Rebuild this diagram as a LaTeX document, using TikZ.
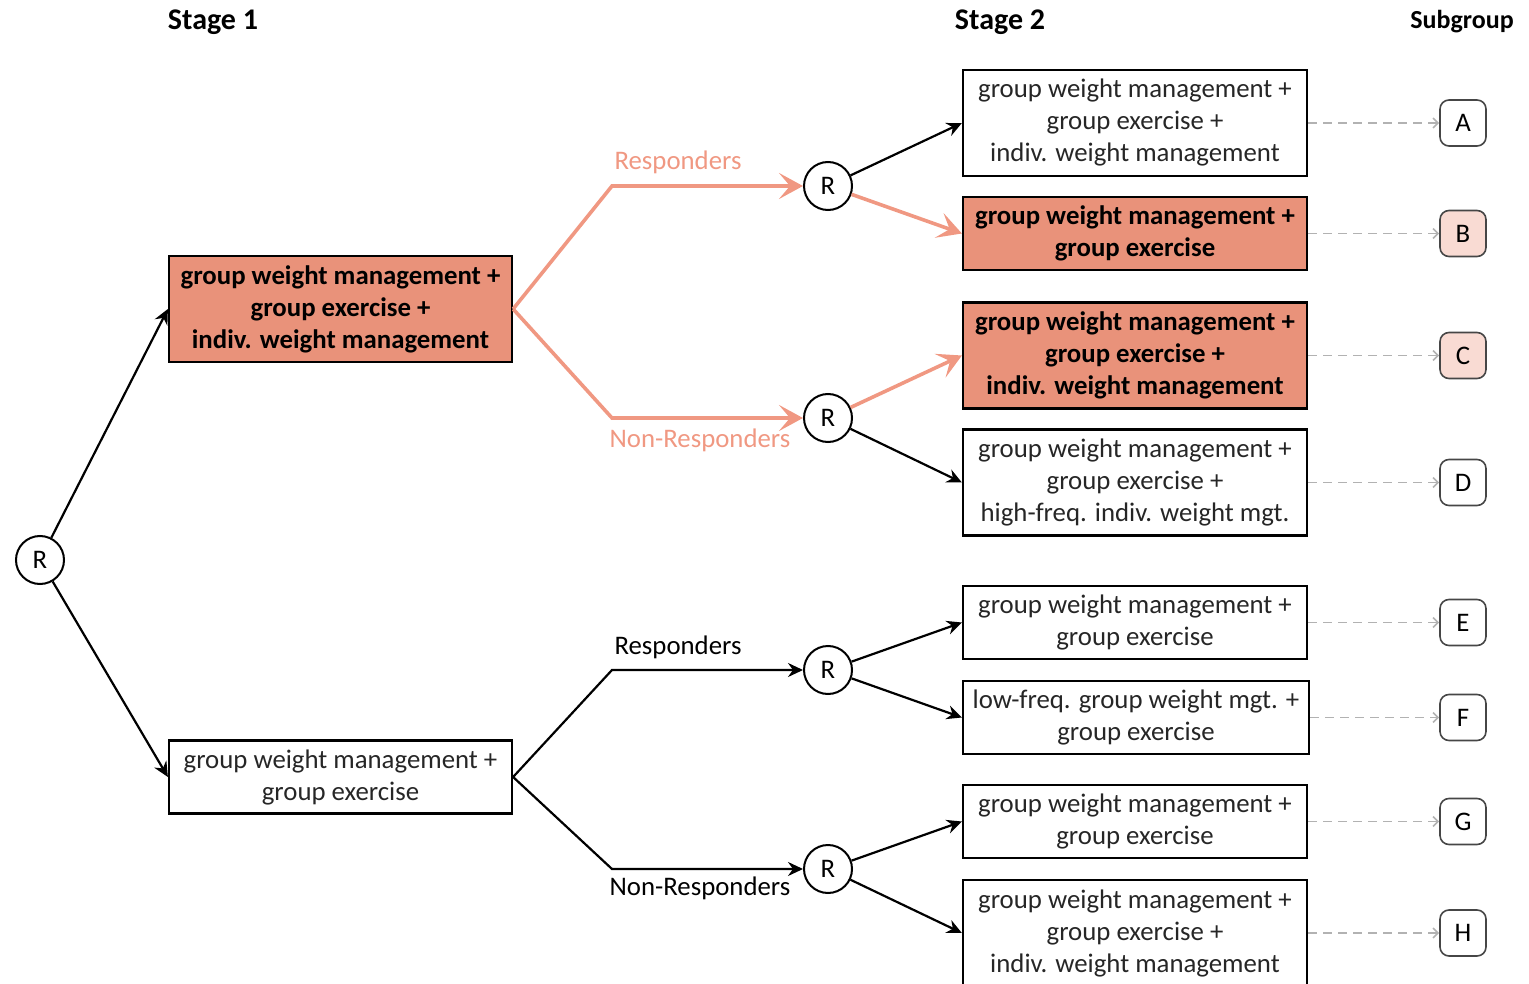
\documentclass[tikz,border=0pt]{standalone}
\usepackage{fontspec}
\setmainfont{Carlito}
\usetikzlibrary{arrows.meta}
\definecolor{salmon}{RGB}{233,146,122}
\definecolor{salmonline}{RGB}{240,152,130}
\definecolor{pinkbox}{RGB}{249,219,211}
\definecolor{dashgrey}{RGB}{178,178,178}
\definecolor{edgegrey}{RGB}{70,70,70}
\begin{document}
\begin{tikzpicture}[x=1pt,y=-1pt,
  txt/.style={font=\fontsize{26.8}{32}\selectfont},
  box/.style={txt, draw=black, line width=2.2pt, minimum width=344pt, align=center, inner sep=0pt, text=black!85},
  tall/.style={box, minimum height=106pt},
  short/.style={box, minimum height=73pt},
  hl/.style={fill=salmon, text=black, font=\fontsize{26.8}{32}\selectfont\bfseries},
  rnode/.style={txt, circle, draw=black, line width=2pt, minimum size=48pt, inner sep=0pt},
  sub/.style={txt, draw=edgegrey, line width=1.6pt, rounded corners=9pt, minimum size=46pt, inner sep=0pt},
  head/.style={font=\fontsize{30}{36}\selectfont\bfseries},
  blk/.style={draw=black, line width=2.2pt, -{Stealth[length=15pt,width=14pt,inset=5pt]}},
  sal/.style={draw=salmonline, line width=3.6pt, -{Stealth[length=24pt,width=26pt,inset=11pt]}},
  dsh/.style={draw=dashgrey, line width=1.7pt, dash pattern=on 9pt off 6pt, -{Straight Barb[length=5pt,width=10pt]}},
  lbl/.style={txt}
]
\useasboundingbox (0,0) rectangle (1529,984);
\clip (0,0) rectangle (1529,984);

% column headings
\node[head] (h1) at (213,22) {Stage 1};
\node[head] (h2) at (1000,22) {Stage 2};
\node[head, font=\fontsize{26}{32}\selectfont\bfseries] (h3) at (1462,22) {Subgroup};

% first randomisation
\node[rnode] (R0) at (40,560) {R};

% stage 1 arms
\node[tall, hl, minimum width=343pt] (S1a) at (340.5,309) {group weight management +\\group exercise +\\indiv. weight management};
\node[short, minimum width=343pt] (S1b) at (340.5,777) {group weight management +\\group exercise};

% second randomisations
\node[rnode] (Ra) at (828,186) {R};
\node[rnode] (Rb) at (828,418) {R};
\node[rnode] (Rc) at (828,670) {R};
\node[rnode] (Rd) at (828,869) {R};

% stage 2 arms
\node[tall] (A) at (1135,123) {group weight management +\\group exercise +\\indiv. weight management};
\node[short, hl] (B) at (1135,233.5) {group weight management +\\group exercise};
\node[tall, hl] (C) at (1135,355.5) {group weight management +\\group exercise +\\indiv. weight management};
\node[tall] (D) at (1135,482.5) {group weight management +\\group exercise +\\high-freq. indiv. weight mgt.};
\node[short] (E) at (1135,622.5) {group weight management +\\group exercise};
\node[short, minimum width=346pt] (F) at (1136,717.5) {low-freq. group weight mgt. +\\group exercise};
\node[short] (G) at (1135,821.5) {group weight management +\\group exercise};
\node[tall] (H) at (1135,933) {group weight management +\\group exercise +\\indiv. weight management};

% subgroups
\node[sub] (gA) at (1463,123) {A};
\node[sub, fill=pinkbox] (gB) at (1463,233.5) {B};
\node[sub, fill=pinkbox] (gC) at (1463,355.5) {C};
\node[sub] (gD) at (1463,482.5) {D};
\node[sub] (gE) at (1463,622.5) {E};
\node[sub] (gF) at (1463,717.5) {F};
\node[sub] (gG) at (1463,821.5) {G};
\node[sub] (gH) at (1463,933) {H};

% bends of the response branches
\coordinate (ka) at (612,186);
\coordinate (kb) at (612,418);
\coordinate (kc) at (612,670);
\coordinate (kd) at (612,869);

% branch labels
\node[lbl, text=salmonline] (la) at (678,162) {Responders};
\node[lbl, text=salmonline] (lb) at (700,440) {Non-Responders};
\node[lbl] (lc) at (678,647) {Responders};
\node[lbl] (ld) at (700,888) {Non-Responders};

% stage 1 allocation
\draw[blk] (R0) -- (S1a.west);
\draw[blk] (R0) -- (S1b.west);

% response branches
\draw[sal] (S1a.east) -- (ka) -- (Ra);
\draw[sal] (S1a.east) -- (kb) -- (Rb);
\draw[blk] (S1b.east) -- (kc) -- (Rc);
\draw[blk] (S1b.east) -- (kd) -- (Rd);

% stage 2 allocation
\draw[blk] (Ra) -- (A.west);
\draw[sal] (Ra) -- (B.west);
\draw[sal] (Rb) -- (C.west);
\draw[blk] (Rb) -- (D.west);
\draw[blk] (Rc) -- (E.west);
\draw[blk] (Rc) -- (F.west);
\draw[blk] (Rd) -- (G.west);
\draw[blk] (Rd) -- (H.west);

% subgroup links
\foreach \s in {A,B,C,D,E,F,G,H}
  \draw[dsh] (\s.east) -- (g\s.west);
\end{tikzpicture}
\end{document}
